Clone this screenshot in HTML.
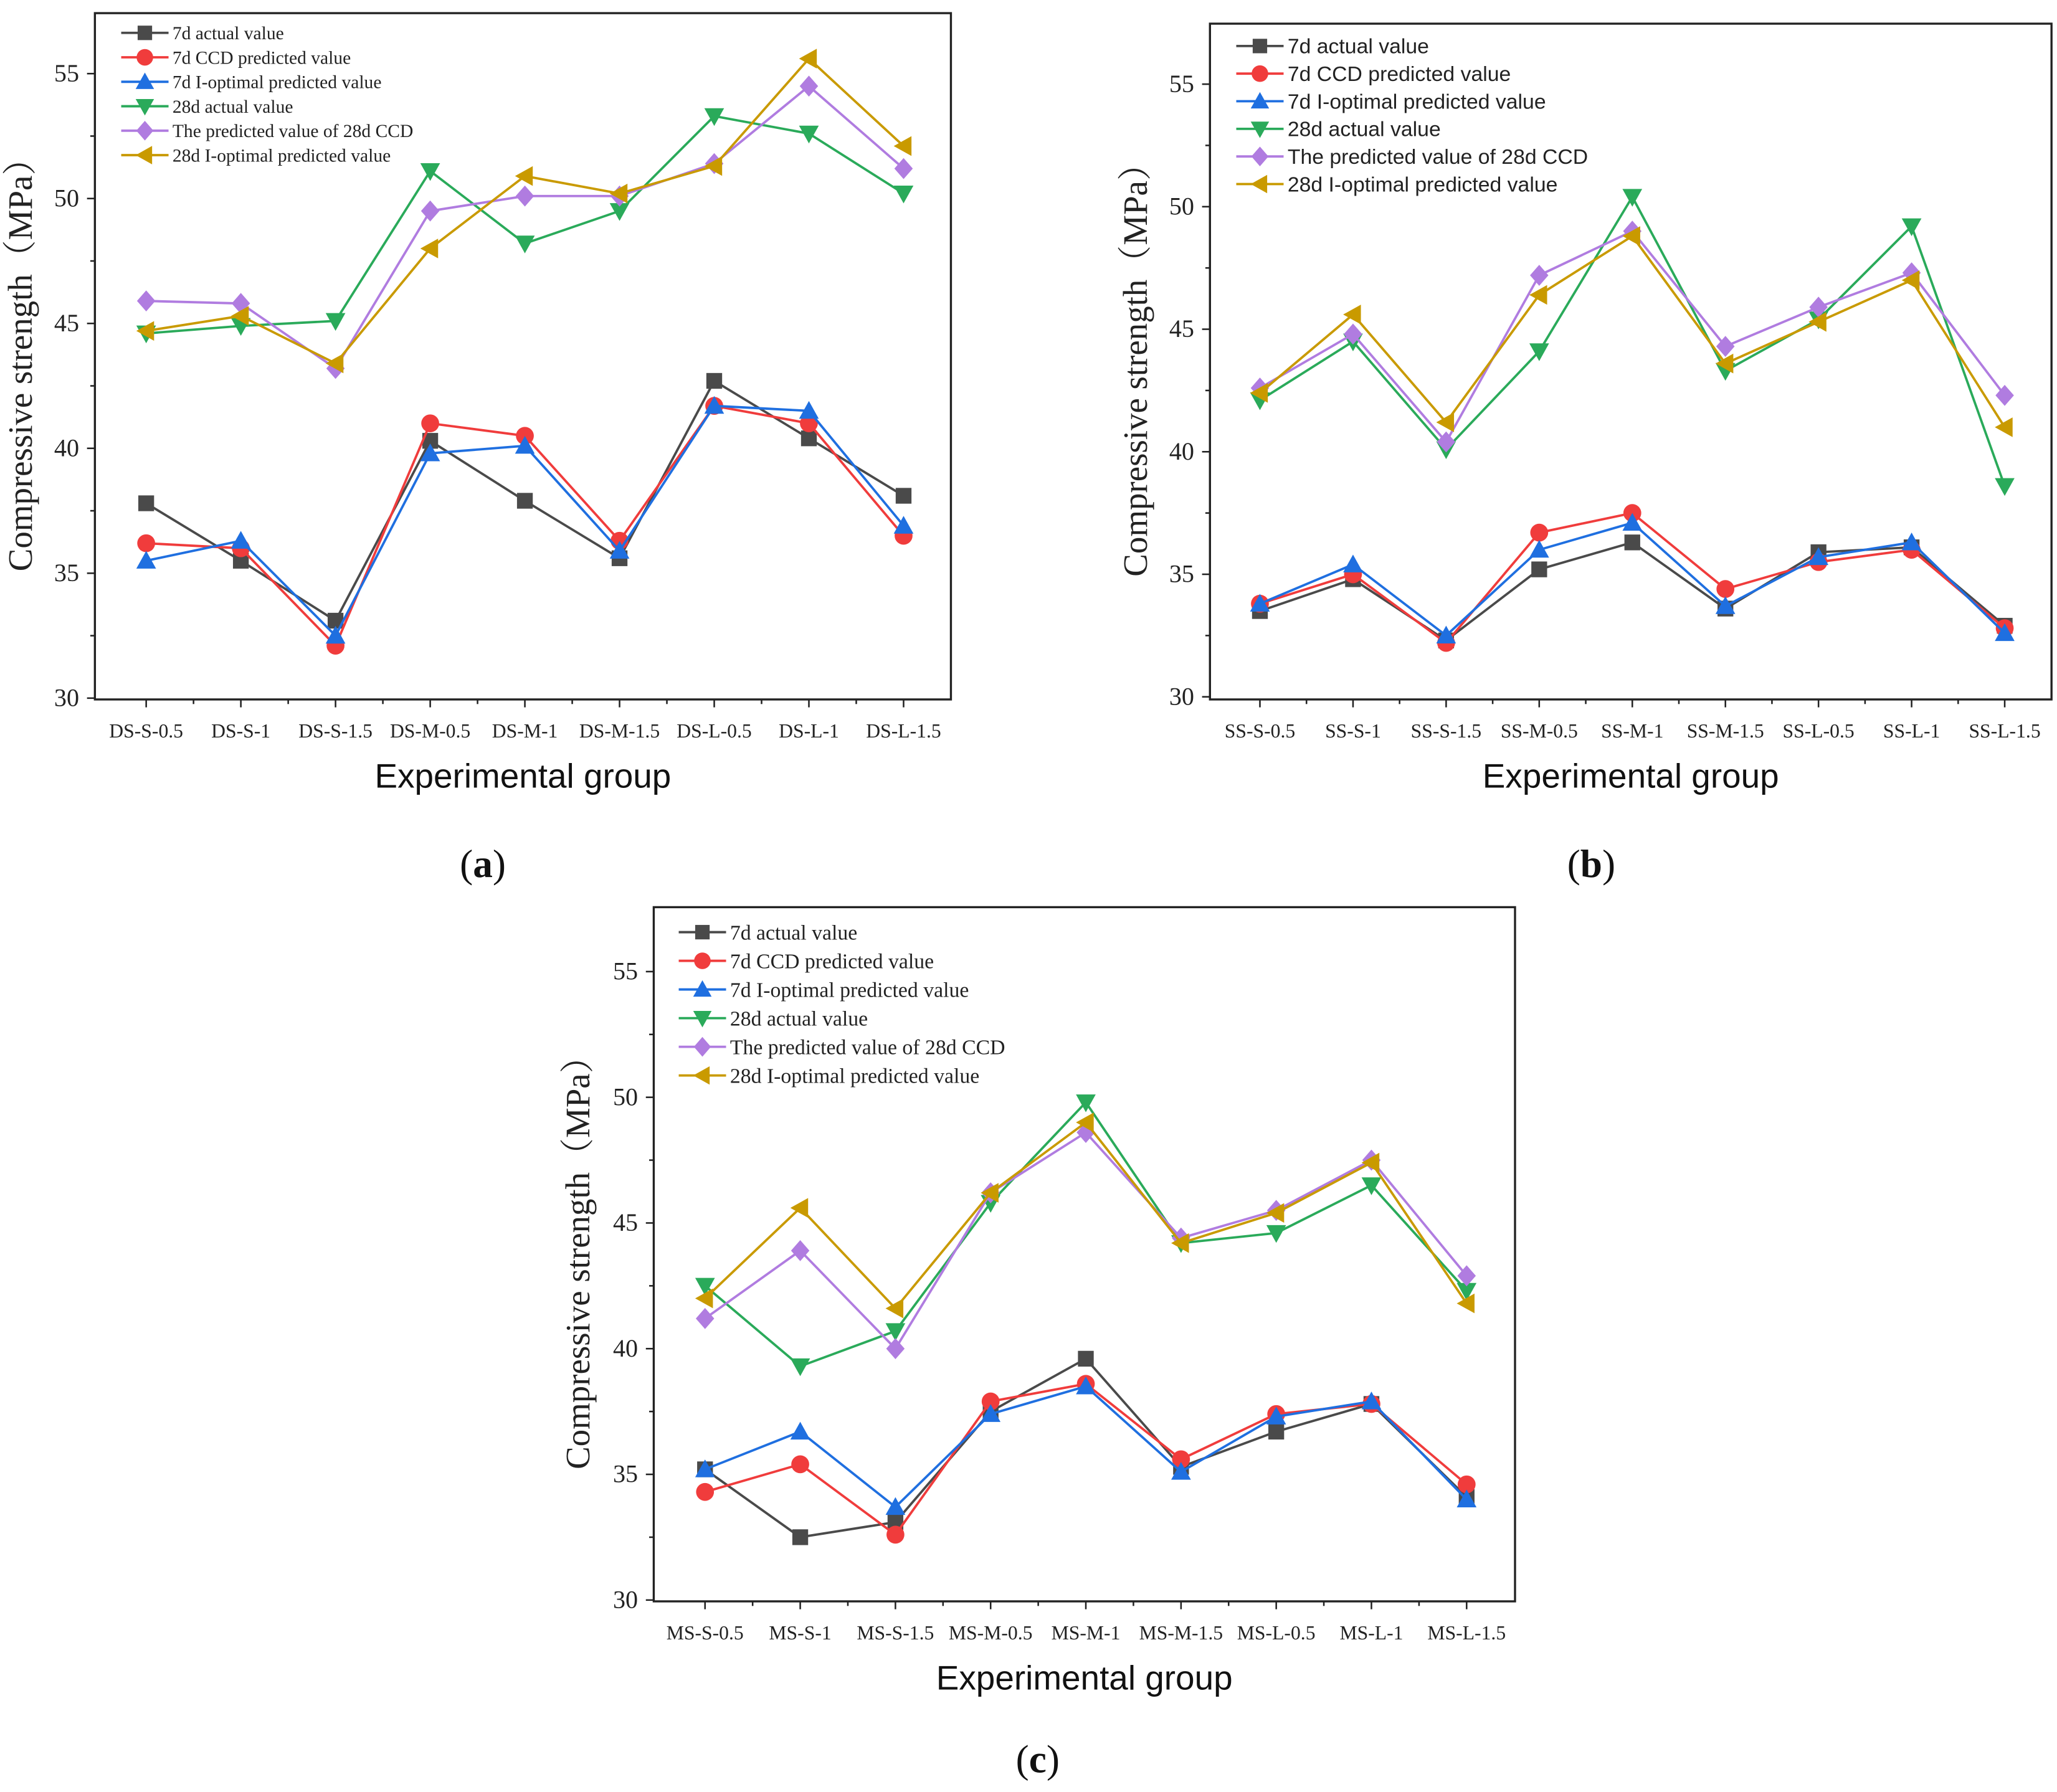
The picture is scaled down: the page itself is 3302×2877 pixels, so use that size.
<!DOCTYPE html>
<html><head><meta charset="utf-8"><style>
html,body{margin:0;padding:0;background:#fff;}
svg{display:block;}
</style></head><body>
<svg id="chart" xmlns="http://www.w3.org/2000/svg" width="3302" height="2877" viewBox="0 0 1564 1363">
<rect width="1564" height="1363" fill="#fff"/>
</svg>
<script>
const seriesNames=["7d actual value","7d CCD predicted value","7d I-optimal predicted value","28d actual value","The predicted value of 28d CCD","28d I-optimal predicted value"];
const seriesColors=["#4a4a4a","#f03c3c","#1f6fe0","#2aaa5a","#b07ce0","#c99a00"];
const seriesMarkers=["square","circle","up","down","diamond","left"];
const yTicks=[30,35,40,45,50,55];
const catsA=["DS-S-0.5","DS-S-1","DS-S-1.5","DS-M-0.5","DS-M-1","DS-M-1.5","DS-L-0.5","DS-L-1","DS-L-1.5"];
const a7Actual=[37.8,35.5,33.1,40.3,37.9,35.6,42.7,40.4,38.1];
const a7CCD=[36.2,36.0,32.1,41.0,40.5,36.3,41.7,41.0,36.5];
const a7I=[35.5,36.3,32.5,39.8,40.1,35.9,41.7,41.5,36.9];
const a28Actual=[44.6,44.9,45.1,51.1,48.2,49.5,53.3,52.6,50.2];
const a28CCD=[45.9,45.8,43.2,49.5,50.1,50.1,51.4,54.5,51.2];
const a28I=[44.7,45.3,43.4,48.0,50.9,50.2,51.3,55.6,52.1];
const catsB=["SS-S-0.5","SS-S-1","SS-S-1.5","SS-M-0.5","SS-M-1","SS-M-1.5","SS-L-0.5","SS-L-1","SS-L-1.5"];
const b7Actual=[33.5,34.8,32.3,35.2,36.3,33.6,35.9,36.1,32.9];
const b7CCD=[33.8,35.0,32.2,36.7,37.5,34.4,35.5,36.0,32.8];
const b7I=[33.8,35.4,32.5,36.0,37.1,33.7,35.7,36.3,32.6];
const b28Actual=[42.1,44.5,40.1,44.1,50.4,43.3,45.4,49.2,38.6];
const b28CCD=[42.6,44.8,40.4,47.2,49.0,44.3,45.9,47.3,42.3];
const b28I=[42.4,45.6,41.2,46.4,48.8,43.6,45.3,47.0,41.0];
const catsC=["MS-S-0.5","MS-S-1","MS-S-1.5","MS-M-0.5","MS-M-1","MS-M-1.5","MS-L-0.5","MS-L-1","MS-L-1.5"];
const c7Actual=[35.2,32.5,33.1,37.5,39.6,35.3,36.7,37.8,34.1];
const c7CCD=[34.3,35.4,32.6,37.9,38.6,35.6,37.4,37.8,34.6];
const c7I=[35.2,36.7,33.7,37.4,38.5,35.1,37.3,37.9,34.0];
const c28Actual=[42.5,39.3,40.7,45.8,49.8,44.2,44.6,46.5,42.3];
const c28CCD=[41.2,43.9,40.0,46.2,48.6,44.4,45.5,47.5,42.9];
const c28I=[42.0,45.6,41.6,46.2,49.0,44.2,45.4,47.4,41.8];

const NS="http://www.w3.org/2000/svg";
const svg=document.getElementById('chart');
function mk(tag,attrs,parent){const e=document.createElementNS(NS,tag);for(const k in attrs)e.setAttribute(k,attrs[k]);(parent||svg).appendChild(e);return e;}
const SERIF='"Liberation Serif", "Noto Serif CJK SC", serif';
const SANS='"Liberation Sans", "Noto Sans CJK SC", sans-serif';

function marker(g,type,x,y,c,s){
  let e;
  if(type==="square") e=mk('rect',{x:x-s,y:y-s,width:2*s,height:2*s,fill:c},g);
  else if(type==="circle") e=mk('circle',{cx:x,cy:y,r:s+0.8,fill:c},g);
  else if(type==="up") e=mk('polygon',{points:`${x},${y-s-1.5} ${x-s-1.5},${y+s} ${x+s+1.5},${y+s}`,fill:c},g);
  else if(type==="down") e=mk('polygon',{points:`${x},${y+s+1.5} ${x-s-1.5},${y-s} ${x+s+1.5},${y-s}`,fill:c},g);
  else if(type==="diamond") e=mk('polygon',{points:`${x},${y-s-2} ${x+s+1},${y} ${x},${y+s+2} ${x-s-1},${y}`,fill:c},g);
  else e=mk('polygon',{points:`${x-s-1.5},${y} ${x+s},${y-s-1.5} ${x+s},${y+s+1.5}`,fill:c},g);
  return e;
}

function panel(id,cfg,cats,series){
  const g=mk('g',{});
  
  
  const {L,R,T,B,y30,y55,x0,dx}=cfg;
  const yS=v=>y30+(v-30)*(y55-y30)/25;
  const xS=i=>x0+i*dx;
  const frame=mk('rect',{x:L,y:T,width:R-L,height:B-T,fill:'none',stroke:'#222','stroke-width':1.6},g);
  
  
  for(let v=30;v<=55;v+=2.5){
    const major=(v%5===0);
    mk('line',{x1:L,x2:L-(major?6:3.5),y1:yS(v),y2:yS(v),stroke:'#222','stroke-width':1.2},g);
  }
  yTicks.forEach(v=>{
    const t=mk('text',{x:L-12,y:yS(v)+6,'text-anchor':'end','font-family':SERIF,'font-size':19,fill:'#222'},g);
    t.textContent=v;
    
    
  });
  cats.forEach((c,i)=>{
    mk('line',{x1:xS(i),x2:xS(i),y1:B,y2:B+6,stroke:'#222','stroke-width':1.2},g);
    if(i<cats.length-1) mk('line',{x1:xS(i)+dx/2,x2:xS(i)+dx/2,y1:B,y2:B+3.5,stroke:'#222','stroke-width':1.2},g);
    const t=mk('text',{x:xS(i),y:B+29,'text-anchor':'middle','font-family':SERIF,'font-size':15,fill:'#222'},g);
    t.textContent=c;
    
    
  });
  const yt=mk('text',{x:0,y:0,'text-anchor':'middle','font-family':SERIF,'font-size':26,fill:'#222',transform:`translate(${cfg.ytx},${(T+B)/2}) rotate(-90)`},g);
  yt.textContent='Compressive strength（MPa）';
  
  
  const xt=mk('text',{x:(L+R)/2,y:B+67,'text-anchor':'middle','font-family':SANS,'font-size':26,fill:'#111'},g);
  xt.textContent='Experimental group';
  
  
  series.forEach((vals,si)=>{
    const sg=mk('g',{},g);
    
    
    const pts=vals.map((v,i)=>xS(i)+','+yS(v)).join(' ');
    mk('polyline',{points:pts,fill:'none',stroke:seriesColors[si],'stroke-width':1.8},sg);
    vals.forEach((v,i)=>{
      const m=marker(sg,seriesMarkers[si],xS(i),yS(v),seriesColors[si],6);
      
      
    });
  });
  const lg=mk('g',{},g);
  
  
  seriesNames.forEach((n,i)=>{
    const y=cfg.lgY+i*cfg.lgDy;
    const e=mk('g',{},lg);
    
    
    mk('line',{x1:cfg.lgX,x2:cfg.lgX+36,y1:y,y2:y,stroke:seriesColors[i],'stroke-width':1.8},e);
    marker(e,seriesMarkers[i],cfg.lgX+18,y,seriesColors[i],5.5);
    const t=mk('text',{x:cfg.lgX+39,y:y+cfg.lgFs*0.35,'font-family':cfg.lgFont,'font-size':cfg.lgFs,fill:'#222'},e);
    t.textContent=n;
  });
  const cap=mk('text',{x:cfg.capX,y:cfg.capY,'text-anchor':'middle','font-family':SERIF,'font-size':30,fill:'#111'},g);
  cap.innerHTML='(<tspan font-weight="bold">'+id+'</tspan>)';
  
  
}

panel('a',{L:72,R:723,T:10,B:532,y30:531,y55:56,x0:111,dx:72,ytx:24,lgX:92,lgY:25,lgDy:18.6,lgFs:14,lgFont:SERIF,capX:367,capY:667},catsA,[a7Actual,a7CCD,a7I,a28Actual,a28CCD,a28I]);
panel('b',{L:920,R:1560,T:18,B:532,y30:530,y55:64,x0:958,dx:70.8,ytx:872,lgX:940,lgY:35,lgDy:21,lgFs:16,lgFont:SANS,capX:1210,capY:667},catsB,[b7Actual,b7CCD,b7I,b28Actual,b28CCD,b28I]);
panel('c',{L:497,R:1152,T:690,B:1218,y30:1217,y55:739,x0:536,dx:72.4,ytx:448,lgX:516,lgY:709,lgDy:21.8,lgFs:16,lgFont:SERIF,capX:789,capY:1348},catsC,[c7Actual,c7CCD,c7I,c28Actual,c28CCD,c28I]);
</script>
</body></html>
